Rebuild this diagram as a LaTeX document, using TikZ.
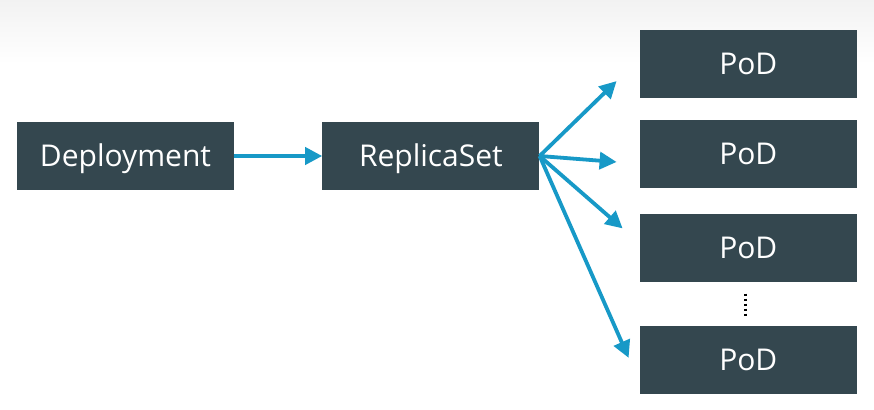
\documentclass[tikz,border=0pt]{standalone}
\usepackage{fontspec}
\setmainfont{Open Sans}
\usetikzlibrary{arrows.meta, positioning, calc}
\definecolor{boxslate}{RGB}{52,71,79}
\definecolor{linkblue}{RGB}{23,153,199}

\begin{document}
\begin{tikzpicture}[
    x=1pt, y=1pt,
    node distance=22pt and 88pt,
    box/.style={fill=boxslate, text=white, minimum width=217pt, minimum height=68pt, inner sep=0pt, text height=21pt, text depth=0pt, font=\fontsize{30}{36}\selectfont},
    arrow/.style={-{Triangle[length=17pt, width=17pt]}, line width=3.8pt, draw=linkblue}
]
\useasboundingbox (0,0) rectangle (874,409);
\fill[white] (0,0) rectangle (874,409);
\shade[top color=black!5, bottom color=white] (0,345) rectangle (874,409);

\node[box] (deploy) at (125.5,253) {Deployment};
\node[box, right=of deploy] (rs) {ReplicaSet};

\node[box, right=100pt of rs, yshift=2pt] (pod2) {PoD};
\node[box, above=of pod2] (pod1) {PoD};
\node[box, below=26pt of pod2] (pod3) {PoD};
\node[box, below=43pt of pod3] (pod4) {PoD};

% free ends of the fan-out
\coordinate (t1) at ($(pod1.west)+(-23,-17.5)$);
\coordinate (t2) at ($(pod2.west)+(-23,-8)$);
\coordinate (t3) at ($(pod3.west)+(-17,20)$);
\coordinate (t4) at ($(pod4.west)+(-11,2)$);

\draw[arrow] (deploy) -- (rs);
\draw[arrow] (rs.east) -- (t1);
\draw[arrow] (rs.east) -- (t2);
\draw[arrow] (rs.east) -- (t3);
\draw[arrow] (rs.east) -- (t4);

% ellipsis between the last pods
\draw[line width=3pt, dash pattern=on 2.8pt off 2.2pt] ($(pod3.south)+(-2.5,-11)$) -- ($(pod4.north)+(-2.5,8)$);
\end{tikzpicture}
\end{document}
